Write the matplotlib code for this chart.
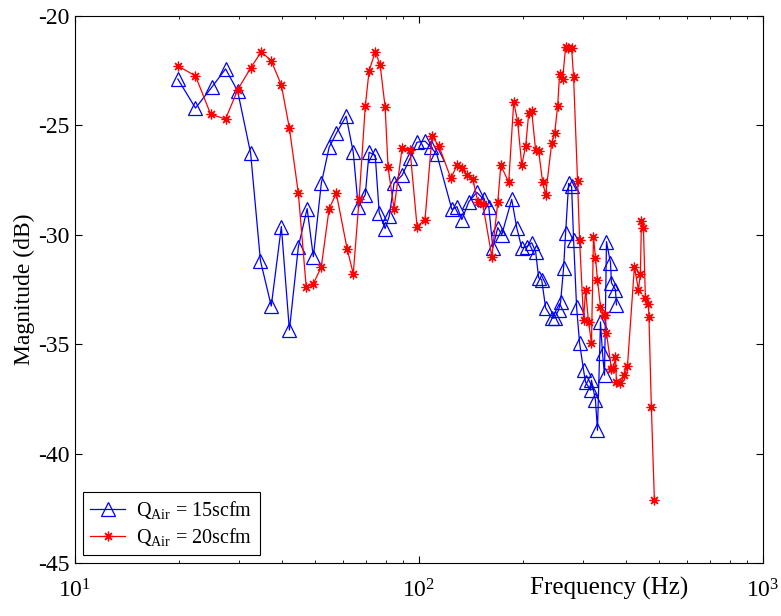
import matplotlib
matplotlib.use("Agg")
import matplotlib.pyplot as plt
from matplotlib.ticker import LogLocator, NullFormatter

plt.rcParams['font.family'] = ['Liberation Serif', 'DejaVu Serif']
plt.rcParams['mathtext.fontset'] = 'custom'
plt.rcParams['mathtext.rm'] = 'Liberation Serif'
plt.rcParams['mathtext.it'] = 'Liberation Serif:italic'
plt.rcParams['axes.unicode_minus'] = False

# Q_Air = 15 scfm
freq_15 = [19.9, 22.4, 25.0, 27.4, 29.7, 32.4, 34.6, 37.2, 39.8, 42.0,
           44.6, 47.3, 49.3, 52.0, 54.8, 57.5, 61.4, 64.4, 66.6, 69.8,
           71.6, 74.6, 76.6, 79.7, 81.9, 84.6, 89.3, 94.2, 98.7, 104.1,
           108.3, 112.7, 124.6, 128.9, 133.2, 139.6, 147.3, 154.3, 159.6, 163.9,
           169.4, 174.0, 186.0, 192.3, 198.9, 205.6, 212.6, 218.3, 222.7, 227.3,
           233.4, 243.0, 247.9, 254.6, 258.0, 263.2, 266.8, 272.2, 277.7, 281.4,
           287.1, 292.9, 300.8, 304.9, 315.2, 317.2, 325.8, 330.2, 336.9, 341.5,
           346.1, 350.7, 360.2, 362.6, 372.4, 374.9]
mag_15 = [-22.89, -24.22, -23.26, -22.43, -23.44, -26.28, -31.19, -33.26, -29.63, -34.36,
          -30.55, -28.81, -31.01, -27.66, -26.01, -25.37, -24.59, -26.24, -28.76, -28.17,
          -26.24, -26.38, -28.99, -29.72, -29.17, -27.66, -27.29, -26.51, -25.78, -25.73,
          -26.01, -26.33, -28.85, -28.72, -29.31, -28.49, -28.07, -28.39, -28.76, -30.60,
          -29.68, -30.00, -28.39, -29.68, -30.60, -30.55, -30.37, -30.78, -31.97, -32.06,
          -33.35, -33.81, -33.81, -33.44, -33.07, -31.51, -29.91, -27.66, -27.80, -30.23,
          -33.30, -34.95, -36.19, -36.74, -37.10, -36.65, -37.57, -38.94, -33.99, -35.41,
          -36.42, -30.32, -31.28, -32.20, -32.52, -33.21]

# Q_Air = 20 scfm
freq_20 = [19.9, 22.4, 24.8, 27.4, 29.7, 32.4, 34.8, 37.2, 39.8, 42.0,
           44.6, 47.0, 49.3, 52.0, 54.8, 57.5, 61.8, 64.4, 67.0, 69.8,
           71.6, 74.6, 77.1, 79.7, 81.3, 84.6, 89.3, 94.2, 98.7, 104.1,
           109.1, 114.3, 123.8, 128.9, 133.2, 137.8, 143.4, 148.3, 153.3, 162.8,
           169.4, 172.9, 182.3, 188.5, 193.6, 198.9, 204.2, 208.4, 212.6, 218.3,
           222.7, 228.8, 233.4, 243.0, 247.9, 252.9, 256.3, 261.5, 266.8, 270.4,
           277.7, 281.4, 289.0, 292.9, 300.8, 304.9, 311.0, 317.2, 321.5, 325.8,
           330.2, 336.9, 343.8, 348.3, 350.7, 362.6, 367.4, 372.4, 374.9, 385.1,
           395.5, 403.5, 422.8, 434.3, 440.1, 443.1, 449.0, 455.0, 464.2, 466.0,
           473.6, 483.2]
mag_20 = [-22.29, -22.75, -24.50, -24.72, -23.39, -22.39, -21.65, -22.06, -23.17, -25.14,
          -28.12, -32.39, -32.25, -31.47, -28.81, -28.12, -30.64, -31.79, -28.35, -24.13,
          -22.52, -21.65, -22.25, -24.17, -26.93, -28.81, -26.06, -26.15, -29.63, -29.31,
          -25.50, -25.96, -27.43, -26.83, -26.97, -27.29, -27.48, -28.49, -28.62, -31.01,
          -28.53, -26.83, -27.61, -23.94, -24.86, -26.83, -25.96, -24.45, -24.36, -26.15,
          -26.19, -27.61, -28.17, -25.83, -25.37, -24.13, -22.66, -22.89, -21.42, -21.47,
          -21.47, -22.80, -27.57, -30.23, -33.90, -32.52, -33.99, -34.95, -30.09, -31.06,
          -32.06, -33.30, -33.67, -33.67, -34.50, -36.15, -36.10, -35.60, -36.74, -36.79,
          -36.42, -36.01, -31.47, -32.52, -31.79, -29.40, -29.68, -32.89, -33.17, -33.76,
          -37.89, -42.11]

fig = plt.figure(figsize=(7.81, 6.16), dpi=100)
ax = fig.add_axes([0.096, 0.086, 0.881, 0.8885])

ax.plot(freq_15, mag_15, color='blue', lw=0.9, marker='^', ms=9.5,
        mfc='none', mew=0.9, label=r'Q$_{\mathrm{Air}}$ = 15scfm')
ax.plot(freq_20, mag_20, color='red', lw=0.9, marker=(8, 2, 0), ms=7,
        mew=0.9, label=r'Q$_{\mathrm{Air}}$ = 20scfm')

ax.set_xscale('log')
ax.set_xlim(10, 1000)
ax.set_ylim(-45, -20)
ax.set_yticks([-45, -40, -35, -30, -25, -20])
ax.xaxis.set_minor_locator(LogLocator(base=10, subs=range(2, 10)))
ax.xaxis.set_minor_formatter(NullFormatter())
ax.tick_params(which='both', direction='in', top=True, right=True, labelsize=17)
ax.tick_params(which='major', length=5)
ax.tick_params(which='minor', length=2.5)
ax.tick_params(axis='x', pad=12)
ax.tick_params(axis='y', pad=4)

ax.set_xlabel('Frequency (Hz)', fontsize=18)
ax.xaxis.set_label_coords(0.776, -0.025)
ax.set_ylabel('Magnitude (dB)', fontsize=17)
ax.yaxis.set_label_coords(-0.058, 0.5)

leg = ax.legend(loc='lower left', bbox_to_anchor=(0.0116, 0.0147), borderaxespad=0,
                fontsize=14.5, fancybox=False, edgecolor='black', framealpha=1,
                handlelength=1.75, handletextpad=0.55, labelspacing=0.25,
                borderpad=0.35)
leg.get_frame().set_linewidth(0.8)

fig.savefig('out.png', dpi=100)
